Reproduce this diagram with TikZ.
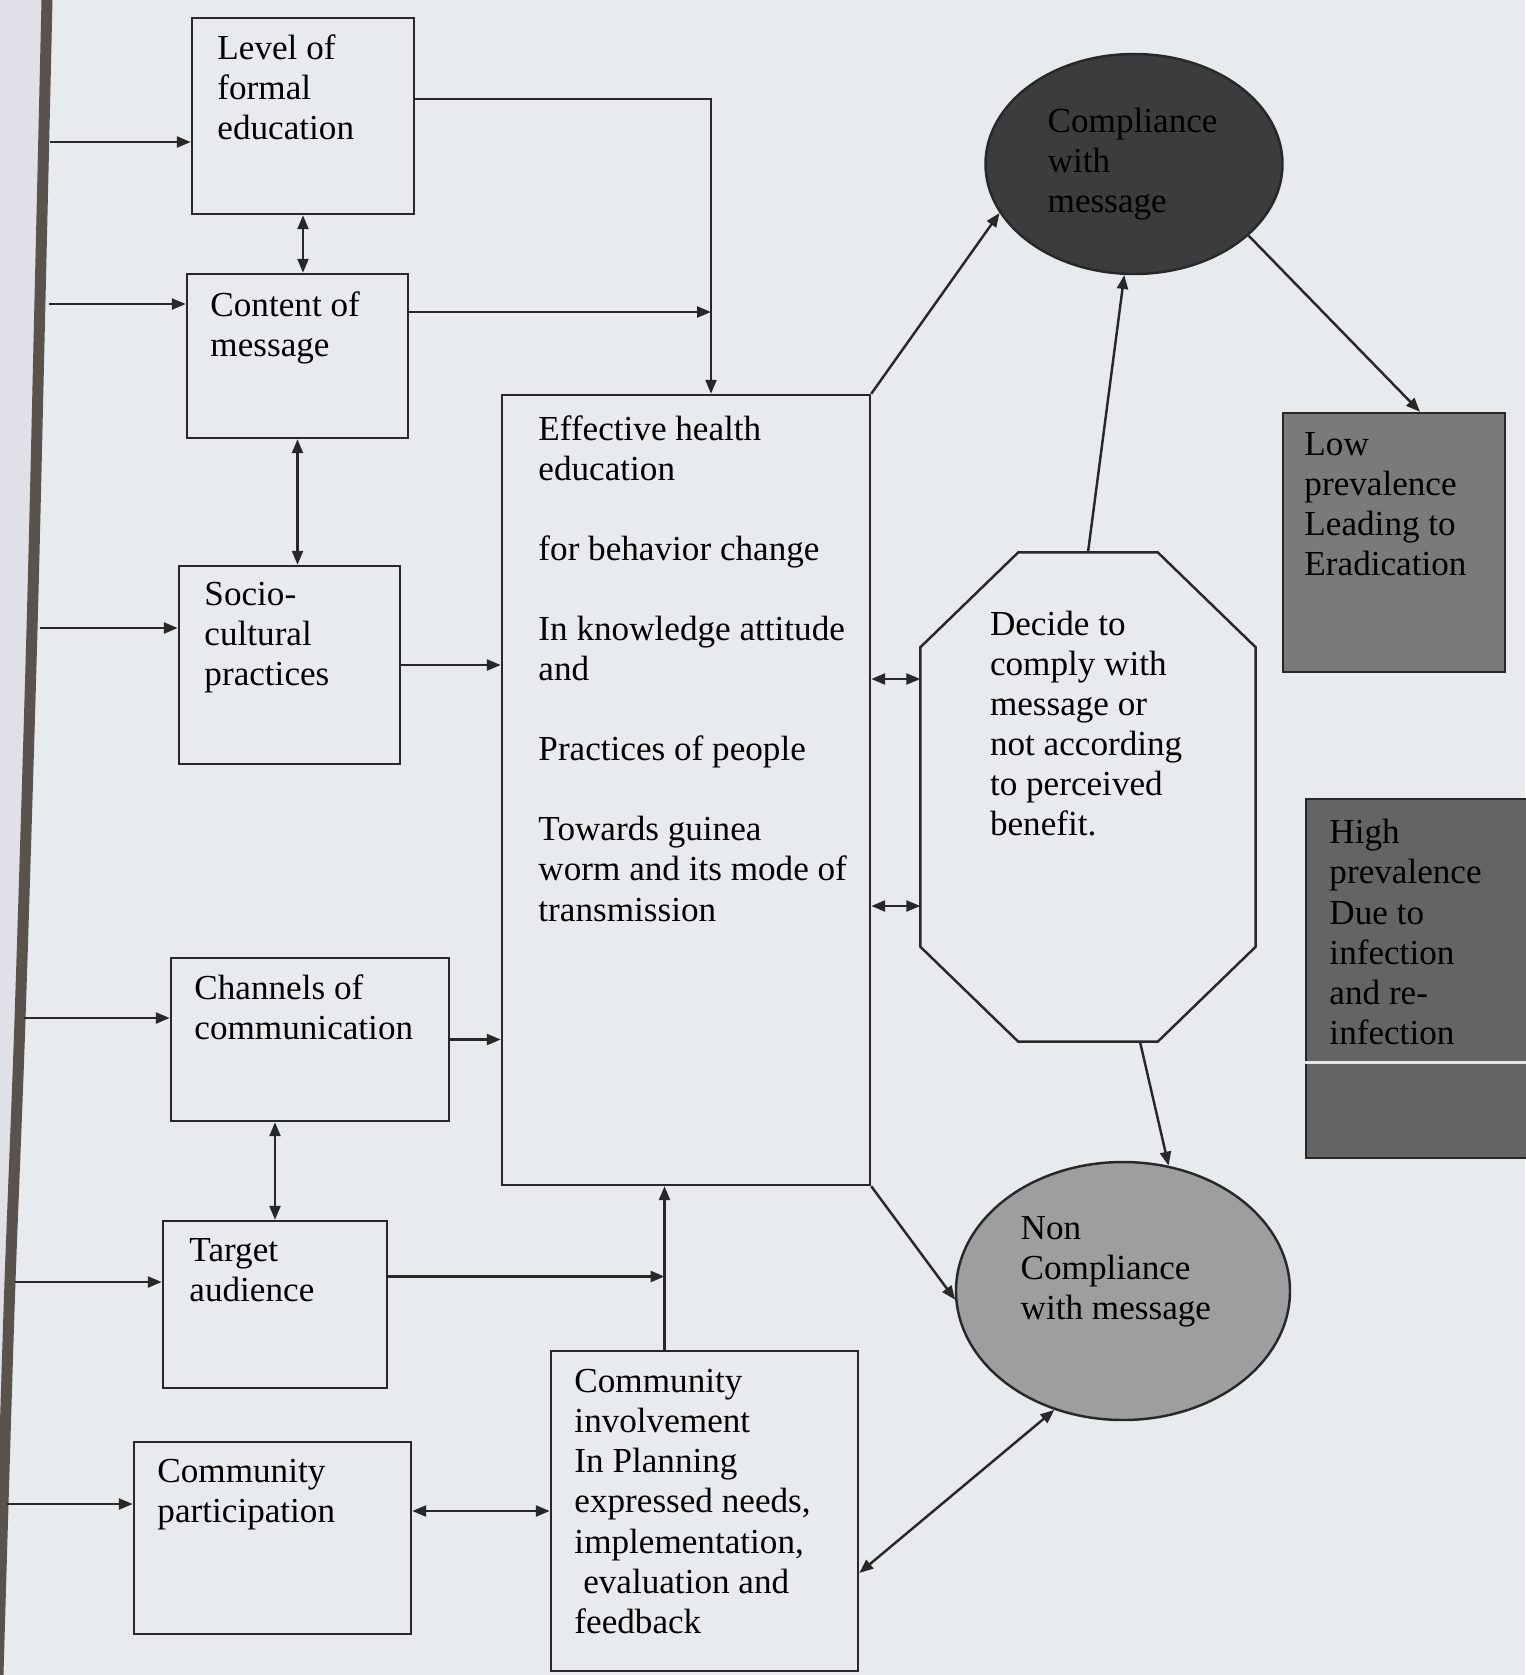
\documentclass[tikz,border=0pt]{standalone}
\usepackage{fontspec}
\setmainfont{Liberation Serif}
\usetikzlibrary{arrows.meta,fit,shapes.geometric}

\definecolor{paper}{RGB}{232,235,238}
\definecolor{margin}{RGB}{224,224,232}
\definecolor{spine}{RGB}{90,82,76}
\definecolor{ink}{RGB}{40,40,40}
\definecolor{darkfill}{RGB}{60,60,62}
\definecolor{lowfill}{RGB}{122,122,122}
\definecolor{highfill}{RGB}{100,100,100}
\definecolor{nonfill}{RGB}{158,158,160}

\tikzset{
  box/.style={draw=ink,line width=0.7pt,inner sep=0pt},
  txt/.style={anchor=north west,align=left,inner sep=0pt,font=\fontsize{10}{11.4}\selectfont},
  link/.style={draw=ink,line width=0.7pt,->},
  both/.style={link,<->}
}

\begin{document}
\begin{tikzpicture}[x=0.1mm,y=-0.1mm,>={Triangle[length=1.4mm,width=1.1mm]}]
        %% page
        \useasboundingbox (0,0) rectangle (1525,1675);
        \fill[paper] (0,0) rectangle (1525,1675);
        \fill[margin] (0,0) -- plot[smooth] coordinates {(47,0) (40,300) (32,630) (20,1020) (10,1282) (3,1505) (-2,1675)} -- (0,1675) -- cycle;
        \draw[spine,line width=1.1mm] plot[smooth] coordinates {(47,0) (40,300) (32,630) (20,1020) (10,1282) (3,1505) (-2,1675)};
        %% left column
        \node[box,fit={(192,18) (414,214)}] (lev) {};
        \node[box,fit={(187,274) (408,438)}] (con) {};
        \node[box,fit={(179,566) (400,764)}] (soc) {};
        \node[box,fit={(171,958) (449,1121)}] (cha) {};
        \node[box,fit={(163,1221) (387,1388)}] (tar) {};
        \node[box,fit={(134,1442) (411,1634)}] (par) {};
        \node[txt] (lev-t) at ([shift={(26,17)}]lev.north west) {Level of\\formal\\education};
        \node[txt] (con-t) at ([shift={(24,18)}]con.north west) {Content of\\message};
        \node[txt] (soc-t) at ([shift={(26,17)}]soc.north west) {Socio-\\cultural\\practices};
        \node[txt] (cha-t) at ([shift={(24,17)}]cha.north west) {Channels of\\communication};
        \node[txt] (tar-t) at ([shift={(27,18)}]tar.north west) {Target\\audience};
        \node[txt] (par-t) at ([shift={(24,18)}]par.north west) {Community\\participation};
        %% middle column
        \node[box,fit={(502,395) (870,1185)}] (eff) {};
        \node[box,fit={(551,1351) (858,1671)}] (inv) {};
        \node[txt] (eff-t) at ([shift={(37,21)}]eff.north west) {Effective health\\education\\[11.4pt]for behavior change\\[11.4pt]In knowledge attitude\\and\\[11.4pt]Practices of people\\[11.4pt]Towards guinea\\worm and its mode of\\transmission};
        \node[txt] (inv-t) at ([shift={(24,19)}]inv.north west) {Community\\involvement\\In Planning\\expressed needs,\\implementation,\\\ evaluation and\\feedback};
        %% right side
        \node[inner sep=0pt,minimum width=33.4mm,minimum height=48.8mm] (dec) at (1088,797) {};
        \draw[ink,line width=0.7pt] ([shift={(98,0)}]dec.north west) -- ([shift={(-98,0)}]dec.north east)
            -- ([shift={(0,95)}]dec.north east) -- ([shift={(0,-95)}]dec.south east)
            -- ([shift={(-98,0)}]dec.south east) -- ([shift={(98,0)}]dec.south west)
            -- ([shift={(0,-95)}]dec.south west) -- ([shift={(0,95)}]dec.north west) -- cycle;
        \node[box,ellipse,fill=darkfill,minimum width=29.7mm,minimum height=22mm] (comp) at (1134,164) {};
        \node[box,ellipse,fill=nonfill,minimum width=33.4mm,minimum height=25.8mm] (non) at (1123,1291) {};
        \node[box,fill=lowfill,fit={(1283,413) (1505,672)}] (low) {};
        \node[box,fill=highfill,fit={(1306,799) (1540,1158)}] (high) {};
        \draw[white!80!gray,line width=0.35mm] ([shift={(0,84)}]high.west) -- ([shift={(0,84)}]high.east);
        \node[txt] (dec-t) at ([shift={(69,58)}]dec.north west) {Decide to\\comply with\\message or\\not according\\to perceived\\benefit.};
        \node[txt] (comp-t) at ([shift={(-87,-57)}]comp.center) {Compliance\\with\\message};
        \node[txt] (non-t) at ([shift={(-103,-75)}]non.center) {Non\\Compliance\\with message};
        \node[txt] (low-t) at ([shift={(22,20)}]low.north west) {Low\\prevalence\\Leading to\\Eradication};
        \node[txt] (high-t) at ([shift={(24,21)}]high.north west) {High\\prevalence\\Due to\\infection\\and re-\\infection};
        %% inputs from the margin
        \foreach \x/\y/\n in {50/142/lev,49/304/con,40/628/soc,24/1018/cha,15/1282/tar,7/1504/par}{
            \coordinate (in-\n) at (\x,\y);
            \draw[link] (in-\n) -- (in-\n -| \n.west);
        }
        %% links into effective health education
        \coordinate (j1) at ([shift={(25,0)}]eff.north);
        \draw[link] ([shift={(0,-17)}]lev.east) -| (j1);
        \draw[link] ([shift={(0,-44)}]con.east) coordinate (c1) -- (c1 -| j1);
        \draw[both] (lev.south) -- (lev.south |- con.north);
        \draw[both] (con.south) -- (con.south |- soc.north);
        \draw[link] (soc.east) -- (soc.east -| eff.west);
        \draw[link] (cha.east) -- (cha.east -| eff.west);
        \draw[both] (tar.north) -- (tar.north |- cha.south);
        \coordinate (j2) at ([shift={(-40,0)}]inv.north);
        \draw[link] (j2) -- (j2 |- eff.south);
        \draw[link] ([shift={(0,-28)}]tar.east) coordinate (t1) -- (t1 -| j2);
        \draw[both] ([shift={(0,-27)}]par.east) coordinate (p1) -- (p1 -| inv.west);
        %% decision and outcomes
        \draw[both] ([shift={(0,-111)}]eff.east) coordinate (e1) -- (e1 -| dec.west);
        \draw[both] ([shift={(0,116)}]eff.east) coordinate (e2) -- (e2 -| dec.west);
        \draw[link] (eff.north east) -- (comp.200);
        \draw[link] (dec.north) -- (comp.265);
        \draw[link] (comp.328) -- ([shift={(26,0)}]low.north);
        \draw[link] ([shift={(52,0)}]dec.south) -- (non.70);
        \draw[link] (eff.south east) -- (non.183);
        \draw[both] ([shift={(0,62)}]inv.east) -- (non.240);
    \end{tikzpicture}
\end{document}
